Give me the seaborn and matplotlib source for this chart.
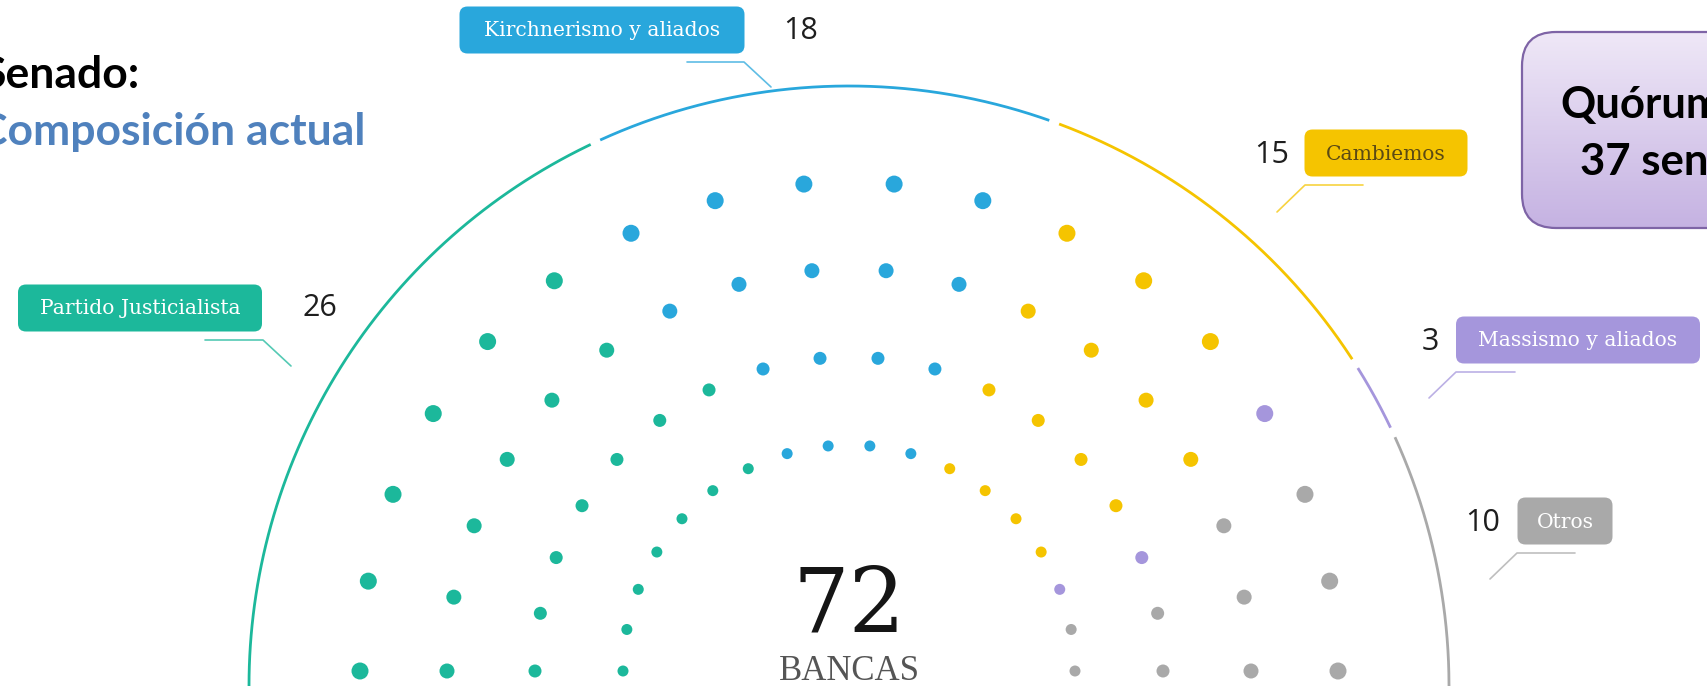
import numpy as np
import pandas as pd
import matplotlib
matplotlib.use('Agg')
import matplotlib.pyplot as plt
from matplotlib.patches import FancyBboxPatch
from matplotlib.colors import LinearSegmentedColormap
import seaborn as sns

# senate composition
parties = ['Partido Justicialista', 'Kirchnerismo y aliados', 'Cambiemos',
           'Massismo y aliados', 'Otros']
seats = [26, 18, 15, 3, 10]
party_colors = ['#1cb89b', '#29a7dc', '#f5c400', '#a596dc', '#a9a9a9']
label_text_colors = ['white', 'white', '#5b4a14', 'white', 'white']
total_seats = 72
quorum = 37

# hemicycle layout (pixels)
W, H = 1708, 692
CX, CY = 849, 671
ARC_CY, ARC_R = 686, 600
row_radius = [489, 402, 314, 226]
row_dot = [17, 15, 13, 11]
seats_per_row = 18

# label boxes: center x, center y, width, height
boxes = {
    'Partido Justicialista': (140, 308, 244, 47),
    'Kirchnerismo y aliados': (602, 30, 285, 47),
    'Cambiemos': (1386, 153, 163, 47),
    'Massismo y aliados': (1578, 340, 244, 47),
    'Otros': (1565, 521, 95, 47),
}
# number: x, y, ha
numbers = {
    'Partido Justicialista': (303, 308, 'left'),
    'Kirchnerismo y aliados': (783, 31, 'left'),
    'Cambiemos': (1289, 155, 'right'),
    'Massismo y aliados': (1439, 342, 'right'),
    'Otros': (1500, 523, 'right'),
}
leaders = {
    'Partido Justicialista': [(205, 340), (263, 340), (291, 366)],
    'Kirchnerismo y aliados': [(687, 62), (744, 62), (771, 87)],
    'Cambiemos': [(1363, 185), (1305, 185), (1277, 212)],
    'Massismo y aliados': [(1515, 372), (1456, 372), (1429, 398)],
    'Otros': [(1575, 553), (1517, 553), (1490, 579)],
}

sns.set_theme(style='white')
plt.rcParams['font.family'] = ['DejaVu Sans']

fig = plt.figure(figsize=(W / 100, H / 100), dpi=100)
ax = fig.add_axes([0, 0, 1, 1])

# seats: 4 rows x 18, filled by angle (inner row first on ties)
recs = []
for i, r in enumerate(row_radius):
    for a in np.linspace(180, 0, seats_per_row):
        recs.append((i, r, a))
seat_df = pd.DataFrame(recs, columns=['row', 'radius', 'angle'])
seat_df = seat_df.sort_values(['angle', 'radius'], ascending=[False, True]).reset_index(drop=True)
seat_df['party'] = np.repeat(parties, seats)
seat_df['x'] = CX + seat_df['radius'] * np.cos(np.radians(seat_df['angle']))
seat_df['y'] = CY - seat_df['radius'] * np.sin(np.radians(seat_df['angle']))

sns.scatterplot(data=seat_df, x='x', y='y', hue='party',
                palette=dict(zip(parties, party_colors)),
                size='row', sizes={i: (d * 0.72) ** 2 for i, d in enumerate(row_dot)},
                linewidth=0, legend=False, ax=ax, zorder=3)

# outer ring split by party
cum = np.concatenate([[0], np.cumsum(seats)])
for k, p in enumerate(parties):
    a0 = 180 - cum[k] * 180 / total_seats
    a1 = 180 - cum[k + 1] * 180 / total_seats
    g0 = 0 if k == 0 else 0.5
    g1 = 0 if k == len(parties) - 1 else 0.5
    t = np.radians(np.linspace(a0 - g0, a1 + g1, 200))
    ax.plot(CX + ARC_R * np.cos(t), ARC_CY - ARC_R * np.sin(t),
            color=party_colors[k], lw=2.0, solid_capstyle='butt', zorder=2)

# labels
for k, p in enumerate(parties):
    bx, by, bw, bh = boxes[p]
    ax.add_patch(FancyBboxPatch((bx - bw / 2 + 6, by - bh / 2 + 6), bw - 12, bh - 12,
                                boxstyle='round,pad=6,rounding_size=8',
                                fc=party_colors[k], ec='none', zorder=4))
    ax.text(bx, by + 1, p, ha='center', va='center', fontsize=14.6,
            family='DejaVu Serif', color=label_text_colors[k], zorder=5)
    nx, ny, nha = numbers[p]
    ax.text(nx, ny, str(seats[k]), ha=nha, va='center', fontsize=22,
            family='Open Sans', color='#1e1e1e')
    pts = np.array(leaders[p])
    ax.plot(pts[:, 0], pts[:, 1], color=party_colors[k], lw=1.2, alpha=0.75)

# centre total
ax.text(CX, 632, str(total_seats), ha='center', va='baseline', fontsize=64,
        family='DejaVu Serif', color='#151515')
ax.text(CX, 680, 'BANCAS', ha='center', va='baseline', fontsize=25,
        family='Liberation Serif', color='#555555')

# title
ax.text(140, 88, 'Senado:', ha='right', va='baseline', fontsize=32,
        family='Lato', weight='bold', color='black')
ax.text(365, 145, 'Composición actual', ha='right', va='baseline', fontsize=32,
        family='Lato', weight='bold', color='#4f81bd')

# quorum box with gradient
qbox = FancyBboxPatch((1522, 32), 300, 196, boxstyle='round,pad=0,rounding_size=34',
                      fc='none', ec='#7e64a6', lw=1.6, zorder=6)
ax.add_patch(qbox)
grad = np.linspace(0, 1, 256).reshape(-1, 1)
cmap = LinearSegmentedColormap.from_list('q', ['#efe8f7', '#c5b2e2'])
im = ax.imshow(grad, extent=[1522, 1822, 228, 32], origin='upper', aspect='auto',
               cmap=cmap, zorder=5)
im.set_clip_path(qbox)
ax.text(1560, 118, 'Quórum:', ha='left', va='baseline', fontsize=31.5,
        family='Lato', weight='bold', color='black', zorder=7)
ax.text(1580, 175, f'{quorum} senadores', ha='left', va='baseline', fontsize=31.5,
        family='Lato', weight='bold', color='black', zorder=7)

ax.set_xlim(0, W)
ax.set_ylim(H, 0)
ax.axis('off')
fig.savefig('out.png', dpi=100, facecolor='white')
